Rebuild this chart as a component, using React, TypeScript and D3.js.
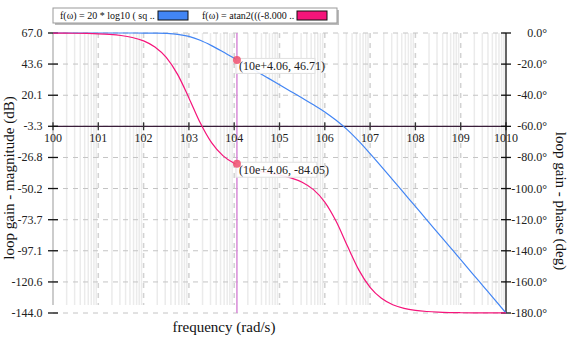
import React from "react";
import * as d3 from "d3";

const freqExp = [0, 0.25, 0.5, 0.75, 1, 1.25, 1.5, 1.75, 2, 2.25, 2.5, 2.75, 3, 3.25, 3.5, 3.75, 4, 4.25, 4.5, 4.75, 5, 5.25, 5.5, 5.75, 6, 6.25, 6.5, 6.75, 7, 7.25, 7.5, 7.75, 8, 8.25, 8.5, 8.75, 9, 9.25, 9.5, 9.75, 10];
const magnitudeDb = [67.0, 67.0, 67.0, 67.0, 67.0, 67.0, 67.0, 66.99, 66.97, 66.89, 66.67, 66.03, 64.46, 61.55, 57.48, 52.83, 47.95, 42.98, 38.0, 33.0, 27.99, 22.98, 17.95, 12.85, 7.53, 1.2, -6.0, -14.5, -23.9, -33.7, -43.7, -53.7, -63.7, -73.8, -83.8, -93.8, -103.8, -113.9, -123.9, -133.9, -144.0];
const phaseDeg = [-0.05, -0.09, -0.16, -0.29, -0.51, -0.91, -1.61, -2.87, -5.09, -9.01, -15.74, -26.62, -41.71, -57.75, -70.52, -78.83, -83.79, -86.74, -88.58, -89.95, -91.3, -93.09, -95.92, -100.68, -108.66, -121.04, -136.96, -152.29, -163.55, -170.58, -174.67, -177.0, -178.31, -179.05, -179.47, -179.7, -179.83, -179.91, -179.95, -179.97, -179.98];

const xTickLabels = ["100", "101", "102", "103", "104", "105", "106", "107", "108", "109", "1010"];
const magTicks = [67.0, 43.6, 20.1, -3.3, -26.8, -50.2, -73.7, -97.1, -120.6, -144.0];
const phaseTicks = [0, -20, -40, -60, -80, -100, -120, -140, -160, -180];

const markerExp = 4.06;
const markerMag = 46.71;
const markerPhase = -84.05;

const legendLabels = ["f(\u03c9) = 20 * log10 ( sq ..", "f(\u03c9) = atan2(((-8.000 .."];

const BLUE = "#4285f4";
const PINK = "#f5147a";
const FONT = "Liberation Serif, Times New Roman, Times, DejaVu Serif, serif";

export default function App() {
  const W = 569, H = 351;
  const left = 53, right = 506, top = 33, bottom = 313;
  const x = d3.scaleLinear().domain([0, 10]).range([left, right]);
  const yMag = d3.scaleLinear().domain([-144, 67]).range([bottom, top]);
  const yPh = d3.scaleLinear().domain([-180, 0]).range([bottom, top]);
  const axisY = yMag(-3.3);

  const magLine = d3.line<number>().x((_, i) => x(freqExp[i])).y((d) => yMag(d)).curve(d3.curveMonotoneX)(magnitudeDb) || "";
  const phLine = d3.line<number>().x((_, i) => x(freqExp[i])).y((d) => yPh(d)).curve(d3.curveMonotoneX)(phaseDeg) || "";

  const minor: number[] = [];
  for (let dec = 0; dec < 10; dec++) {
    for (let k = 2; k <= 9; k++) minor.push(dec + Math.log10(k));
  }
  const decades = d3.range(0, 11);

  const mx = x(markerExp);
  const my1 = yMag(markerMag);
  const my2 = yPh(markerPhase);

  return (
    <svg width={W} height={H} style={{ position: "absolute", left: 0, top: 0, background: "#fff", fontFamily: FONT }}>
      {minor.map((m, i) => (
        <line key={"mi" + i} x1={x(m)} x2={x(m)} y1={top} y2={305} stroke="#ebebeb" strokeWidth={1.5} />
      ))}
      {decades.slice(1, 10).map((d) => (
        <line key={"dg" + d} x1={x(d)} x2={x(d)} y1={top} y2={305} stroke="#d2d2d2" strokeWidth={1.5} strokeDasharray="5,5" />
      ))}
      <line x1={left} x2={left} y1={top} y2={305} stroke="#cccccc" strokeWidth={2} />
      {magTicks.map((t, i) => (
        <line key={"hg" + i} x1={left} x2={right} y1={yMag(t)} y2={yMag(t)} stroke="#c4c4c4" strokeWidth={1} strokeDasharray="5,5" />
      ))}
      <line x1={mx} x2={mx} y1={top} y2={bottom} stroke="#d88ad8" strokeWidth={1.5} />
      <line x1={left} x2={right} y1={axisY} y2={axisY} stroke="#3a1e3a" strokeWidth={1.3} />
      {decades.map((d) => (
        <g key={"xt" + d}>
          <line x1={x(d)} x2={x(d)} y1={axisY - 4} y2={axisY + 4} stroke="#333" strokeWidth={1.3} />
          <text x={x(d)} y={axisY + 15.5} textAnchor="middle" fontSize={12} fill="#222">{xTickLabels[d]}</text>
        </g>
      ))}
      {magTicks.map((t, i) => (
        <g key={"lt" + i}>
          <line x1={48} x2={58} y1={yMag(t)} y2={yMag(t)} stroke="#111" strokeWidth={1.3} />
          <text x={42.5} y={yMag(t) + 4} textAnchor="end" fontSize={12} fill="#222">{t.toFixed(1)}</text>
        </g>
      ))}
      <line x1={right} x2={right} y1={top} y2={bottom} stroke="#111" strokeWidth={1.3} />
      {phaseTicks.map((t, i) => (
        <g key={"rt" + i}>
          <line x1={right - 5} x2={right + 5} y1={yPh(t)} y2={yPh(t)} stroke="#111" strokeWidth={1.3} />
          <text x={547} y={yPh(t) + 4} textAnchor="end" fontSize={12} fill="#222">{t.toFixed(1) + "\u00b0"}</text>
        </g>
      ))}
      <path d={magLine} fill="none" stroke={BLUE} strokeWidth={1.2} />
      <path d={phLine} fill="none" stroke={PINK} strokeWidth={1.2} />
      <rect x={mx - 1} y={my1 - 1.5} width={79} height={15} fill="#fff" fillOpacity={0.9} stroke="#e0e0e0" />
      <text x={mx + 2} y={my1 + 10} fontSize={12} fill="#222">{`(10e+${markerExp.toFixed(2)}, ${markerMag.toFixed(2)})`}</text>
      <rect x={mx - 1} y={my2 - 1.5} width={81} height={15} fill="#fff" fillOpacity={0.9} stroke="#e0e0e0" />
      <text x={mx + 2} y={my2 + 10} fontSize={12} fill="#222">{`(10e+${markerExp.toFixed(2)}, ${markerPhase.toFixed(2)})`}</text>
      <circle cx={mx} cy={my1} r={4} fill="#f0506e" fillOpacity={0.85} />
      <circle cx={mx} cy={my2} r={4} fill="#f0506e" fillOpacity={0.85} />
      <text transform={`translate(14,178) rotate(-90)`} textAnchor="middle" fontSize={15} fill="#111">loop gain - magnitude (dB)</text>
      <text transform={`translate(556,201) rotate(90)`} textAnchor="middle" fontSize={15} fill="#111">loop gain - phase (deg)</text>
      <text x={224} y={331.5} textAnchor="middle" fontSize={15} fill="#111">frequency (rad/s)</text>
      <rect x={55} y={10} width={284} height={15} fill="#bbb" />
      <rect x={53} y={8} width={284} height={15} fill="#fff" stroke="#999" strokeWidth={1} />
      <text x={60} y={18.5} fontSize={10} fill="#111">{legendLabels[0]}</text>
      <rect x={158} y={11} width={30} height={9} fill={BLUE} stroke="#111" strokeWidth={1} />
      <text x={202} y={18.5} fontSize={10} fill="#111">{legendLabels[1]}</text>
      <rect x={297} y={11} width={30} height={9} fill={PINK} stroke="#111" strokeWidth={1} />
    </svg>
  );
}
